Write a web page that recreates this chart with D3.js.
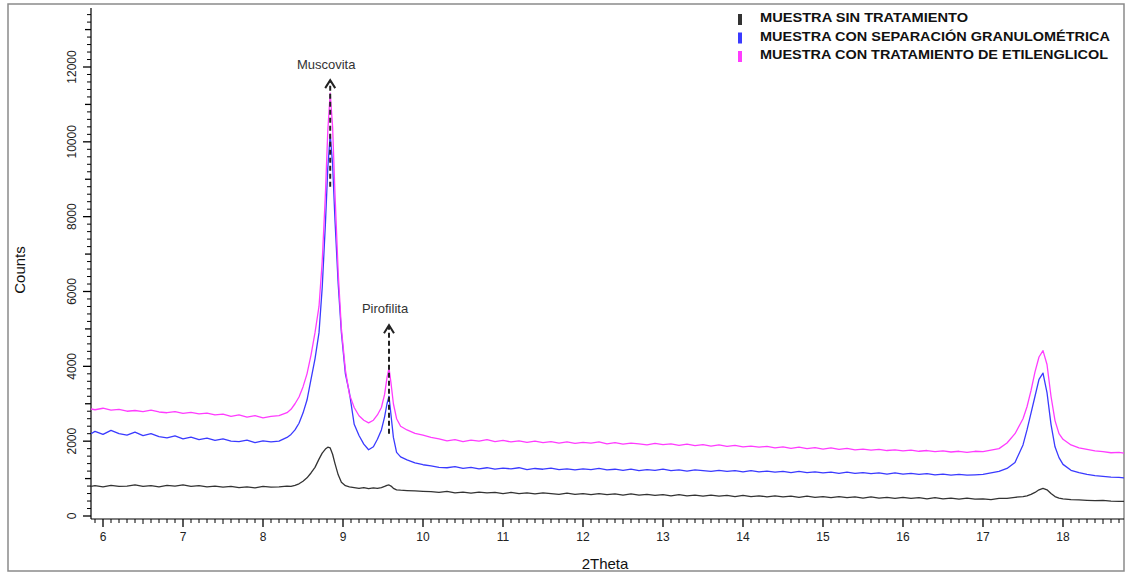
<!DOCTYPE html>
<html><head><meta charset="utf-8">
<script src="https://cdn.jsdelivr.net/npm/d3@7"></script>
<style>html,body{margin:0;padding:0;background:#fff;}svg{display:block;font-family:"Liberation Sans",Arial,sans-serif;}</style>
</head><body><svg id="c" width="1126" height="574"></svg>
<script>
// ---- data ----
const theta = [5.85,5.9,6.0,6.1,6.2,6.3,6.4,6.5,6.6,6.7,6.8,6.9,7.0,7.1,7.2,7.3,7.4,7.5,7.6,7.7,7.8,7.9,8.0,8.1,
 8.2,8.3,8.35,8.4,8.45,8.5,8.55,8.6,8.65,8.7,8.74,8.78,8.81,8.84,8.87,8.9,8.94,8.98,9.03,9.08,9.14,9.2,9.26,9.32,9.38,9.43,9.48,9.52,9.55,9.575,9.6,9.63,9.67,9.72,9.8,9.9,10.0,
 10.1,10.2,10.3,10.4,10.5,10.6,10.7,10.8,10.9,11.0,11.1,11.2,11.3,11.4,11.5,11.6,11.7,11.8,11.9,12.0,
 12.1,12.2,12.3,12.4,12.5,12.6,12.7,12.8,12.9,13.0,13.1,13.2,13.3,13.4,13.5,13.6,13.7,13.8,13.9,14.0,
 14.1,14.2,14.3,14.4,14.5,14.6,14.7,14.8,14.9,15.0,15.1,15.2,15.3,15.4,15.5,15.6,15.7,15.8,15.9,16.0,
 16.1,16.2,16.3,16.4,16.5,16.6,16.7,16.8,16.9,17.0,17.1,17.2,
 17.3,17.4,17.5,17.55,17.6,17.65,17.7,17.75,17.8,17.85,17.9,17.95,18.0,18.1,18.2,18.3,18.4,18.5,18.6,18.7,18.8];

const sinTratamiento = [790,810,780,820,790,800,830,790,810,780,820,800,830,790,810,780,800,770,790,760,780,750,790,770,
 780,800,790,820,860,930,1020,1150,1300,1520,1680,1790,1840,1820,1650,1400,1100,900,810,780,760,740,760,730,750,740,760,790,820,830,800,740,700,690,680,670,660,
 650,630,660,620,640,610,640,620,630,600,630,600,620,590,620,600,580,610,580,600,
 570,600,570,590,560,590,560,580,550,570,540,570,540,560,530,560,530,550,520,550,
 520,540,510,540,510,530,500,530,500,520,490,520,490,510,480,510,480,500,470,500,
 470,490,460,490,460,480,450,480,450,460,440,470,
 470,500,520,540,580,630,700,740,700,600,520,480,460,440,430,420,410,420,400,390,390];

const separacion = [2200,2260,2180,2290,2200,2160,2240,2150,2200,2120,2090,2140,2060,2110,2040,2080,2020,2060,2000,1990,2030,1960,2010,1980,
 2000,2100,2180,2300,2480,2750,3100,3650,4200,4900,6100,7800,9300,10200,9400,7900,6200,4900,3800,3300,2450,2150,1920,1770,1850,2050,2300,2650,3000,3200,2700,2100,1700,1580,1500,1420,1370,
 1340,1300,1290,1320,1270,1300,1260,1290,1250,1280,1260,1290,1240,1270,1250,1280,1240,1260,1230,1260,
 1240,1270,1230,1250,1220,1250,1210,1240,1220,1250,1210,1230,1200,1230,1210,1190,1220,1190,1210,1180,
 1210,1180,1200,1170,1190,1160,1190,1160,1180,1150,1170,1140,1170,1140,1160,1130,1150,1120,1150,1120,
 1140,1110,1130,1100,1120,1090,1110,1090,1100,1110,1150,1190,
 1270,1430,1900,2300,2750,3200,3650,3820,3300,2450,1850,1560,1380,1220,1160,1110,1080,1060,1040,1030,1010];

const etilenglicol = [2860,2840,2880,2830,2850,2800,2820,2790,2830,2780,2760,2790,2740,2770,2730,2750,2700,2720,2660,2700,2640,2680,2620,2660,
 2680,2760,2850,3000,3180,3450,3800,4300,4900,5600,6800,8600,10300,11300,10400,8600,6500,5000,3900,3250,2900,2680,2560,2490,2560,2700,2900,3250,3700,3950,3550,3000,2600,2400,2300,2210,2160,
 2100,2060,2010,2040,1990,2030,2000,2040,1990,2020,1980,2010,1970,2000,1960,1990,1950,1980,1940,1970,
 1950,1980,1930,1960,1920,1950,1930,1900,1940,1910,1930,1890,1920,1880,1910,1870,1900,1860,1890,1850,
 1870,1840,1860,1820,1850,1810,1840,1800,1830,1790,1820,1780,1810,1770,1790,1760,1780,1750,1770,1740,
 1760,1730,1750,1720,1740,1710,1730,1700,1730,1720,1760,1800,
 1950,2200,2600,2920,3350,3850,4250,4420,4050,3200,2550,2200,2050,1900,1820,1780,1740,1720,1690,1700,1670];

const seriesNames = ["MUESTRA SIN TRATAMIENTO","MUESTRA CON SEPARACIÓN GRANULOMÉTRICA","MUESTRA CON TRATAMIENTO DE ETILENGLICOL"];
const seriesColors = ["#333333","#3a3aff","#ff3cff"];
const yTickLabels = [0,2000,4000,6000,8000,10000,12000];
const xTickLabels = [6,7,8,9,10,11,12,13,14,15,16,17,18];
const annotations = [{label:"Muscovita", theta:8.84, from:8800, to:11650, labelAt:12050},
                     {label:"Pirofilita", theta:9.575, from:2200, to:5100, labelAt:5510}];

// ---- layout ----
const svg = d3.select("#c");
const L = 91, R = 1124, B = 519, T = 8;
const x = d3.scaleLinear().domain([6,18]).range([103,1063]);
const y = d3.scaleLinear().domain([0,12000]).range([516,67]);

// frame
svg.append("rect").attr("x",8).attr("y",4).attr("width",1116).attr("height",567)
  .attr("fill","none").attr("stroke","#8a8a8a").attr("stroke-width",1.5);

// clip
svg.append("clipPath").attr("id","clip").append("rect").attr("x",L).attr("y",T).attr("width",R-L).attr("height",B-T);

// axes
const xMin = x.invert(L), xMax = x.invert(R);
const yMax = y.invert(T), yMin = y.invert(B);
const xMinor = d3.range(Math.ceil(xMin*10), Math.floor(xMax*10)+1).map(d=>d/10);
const gx = svg.append("g").attr("transform",`translate(0,${B})`);
gx.append("line").attr("x1",L).attr("x2",R).attr("y1",0).attr("y2",0).attr("stroke","#000").attr("stroke-width",1.2);
gx.selectAll("line.t").data(xMinor).join("line").attr("class","t")
  .attr("x1",d=>x(d)).attr("x2",d=>x(d)).attr("y1",0)
  .attr("y2",d=>{const r=Math.round(d*10); return r%10===0?8:(r%5===0?5:4);})
  .attr("stroke","#000").attr("stroke-width",d=>Math.round(d*10)%10===0?1.3:1);
gx.selectAll("text").data(xTickLabels).join("text")
  .attr("x",d=>x(d)).attr("y",22).attr("text-anchor","middle")
  .attr("font-size",12).attr("fill","#222").text(d=>d);

const yMinor = d3.range(Math.ceil(yMin/200), Math.floor(yMax/200)+1).map(d=>d*200);
const gy = svg.append("g");
gy.append("line").attr("x1",L).attr("x2",L).attr("y1",T).attr("y2",B).attr("stroke","#000").attr("stroke-width",1.2);
gy.selectAll("line.t").data(yMinor).join("line").attr("class","t")
  .attr("x1",L).attr("x2",d=>L-(d%2000===0?8:(d%1000===0?6:4)))
  .attr("y1",d=>y(d)).attr("y2",d=>y(d))
  .attr("stroke","#000").attr("stroke-width",d=>d%1000===0?1.3:1);
gy.selectAll("text").data(yTickLabels).join("text")
  .attr("transform",d=>`translate(76,${y(d)}) rotate(-90)`)
  .attr("text-anchor","middle").attr("font-size",12).attr("fill","#222").text(d=>d);

// axis titles
svg.append("text").attr("transform","translate(25,270) rotate(-90)").attr("text-anchor","middle")
  .attr("font-size",15).attr("fill","#111").text("Counts");
svg.append("text").attr("x",605).attr("y",569).attr("text-anchor","middle")
  .attr("font-size",15).attr("fill","#111").text("2Theta");

// series
const allSeries = [sinTratamiento, separacion, etilenglicol];
const line = d3.line().x((d,i)=>x(theta[i])).y(d=>y(d));
const gs = svg.append("g").attr("clip-path","url(#clip)");
allSeries.forEach((s,k)=>{
  gs.append("path").datum(s).attr("d",line).attr("fill","none")
    .attr("stroke",seriesColors[k]).attr("stroke-width",1.3).attr("stroke-linejoin","round");
});

// annotations
annotations.forEach(a=>{
  const ax = x(a.theta);
  svg.append("line").attr("x1",ax).attr("x2",ax).attr("y1",y(a.from)).attr("y2",y(a.to)+1)
    .attr("stroke","#222").attr("stroke-width",2).attr("stroke-dasharray","5,3");
  const ty = y(a.to);
  svg.append("path").attr("d",`M${ax-5},${ty+8} L${ax},${ty} L${ax+5},${ty+8}`)
    .attr("fill","none").attr("stroke","#222").attr("stroke-width",2);
  svg.append("text").attr("x",ax-4).attr("y",y(a.labelAt)).attr("text-anchor","middle")
    .attr("dominant-baseline","middle").attr("font-size",13).attr("fill","#333").text(a.label);
});

// legend
const legW = [208,350,348];
const lg = svg.append("g");
seriesNames.forEach((n,i)=>{
  const yy = 19 + i*18.5;
  lg.append("rect").attr("x",738).attr("y",yy-5).attr("width",4).attr("height",11).attr("fill",seriesColors[i]);
  lg.append("text").attr("x",760).attr("y",yy).attr("dominant-baseline","middle")
    .attr("font-size",13).attr("font-weight","bold").attr("fill","#111")
    .attr("textLength",legW[i]).attr("lengthAdjust","spacingAndGlyphs").text(n);
});
</script></body></html>
